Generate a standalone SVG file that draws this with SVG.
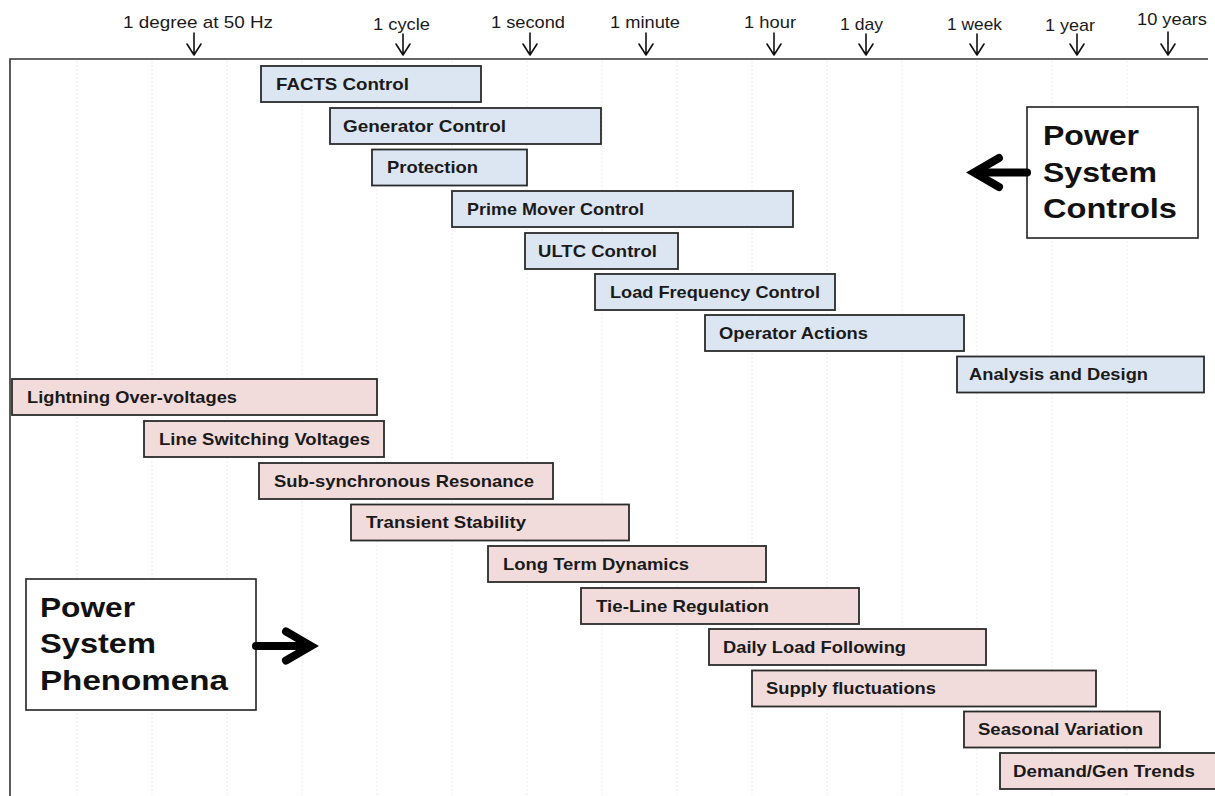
<svg xmlns="http://www.w3.org/2000/svg" width="1215" height="796" viewBox="0 0 1215 796">
<style>
  .axis{font-family:"Liberation Sans",Arial,sans-serif;font-size:17px;fill:#1a1a1a}
  .tick{stroke:#111;stroke-width:1.6;fill:none;stroke-linecap:round;stroke-linejoin:round}
  .grid{stroke:#ececec;stroke-width:1;stroke-dasharray:2 2}
  .frame{stroke:#333;stroke-width:1.6;fill:none}
  .ctrl rect{fill:#dce6f2;stroke:#2b2b2b;stroke-width:1.8}
  .phen rect{fill:#f2dcdb;stroke:#2b2b2b;stroke-width:1.8}
  .lbl{font-family:"Liberation Sans",Arial,sans-serif;font-size:17px;font-weight:bold;fill:#1a1a1a}
  .big rect{fill:#fff;stroke:#222;stroke-width:1.6}
  .bigt{font-family:"Liberation Sans",Arial,sans-serif;font-size:28px;font-weight:bold;fill:#111}
  .fat{stroke:#000;stroke-width:8;fill:none;stroke-linecap:round;stroke-linejoin:miter}
</style>
<rect width="1215" height="796" fill="#fff"/>
<g id="grid">
  <line class="grid" x1="77" y1="61" x2="77" y2="796"/>
  <line class="grid" x1="152" y1="61" x2="152" y2="796"/>
  <line class="grid" x1="227" y1="61" x2="227" y2="796"/>
  <line class="grid" x1="302" y1="61" x2="302" y2="796"/>
  <line class="grid" x1="377" y1="61" x2="377" y2="796"/>
  <line class="grid" x1="452" y1="61" x2="452" y2="796"/>
  <line class="grid" x1="527" y1="61" x2="527" y2="796"/>
  <line class="grid" x1="602" y1="61" x2="602" y2="796"/>
  <line class="grid" x1="677" y1="61" x2="677" y2="796"/>
  <line class="grid" x1="752" y1="61" x2="752" y2="796"/>
  <line class="grid" x1="827" y1="61" x2="827" y2="796"/>
  <line class="grid" x1="902" y1="61" x2="902" y2="796"/>
  <line class="grid" x1="977" y1="61" x2="977" y2="796"/>
  <line class="grid" x1="1052" y1="61" x2="1052" y2="796"/>
  <line class="grid" x1="1127" y1="61" x2="1127" y2="796"/>
</g>
<g id="frame">
  <path class="frame" d="M10 796 L10 59 L1208 59"/>
</g>
<g id="axis">
  <text class="axis" x="123" y="28" textLength="150" lengthAdjust="spacingAndGlyphs">1 degree at 50 Hz</text>
  <text class="axis" x="373" y="30" textLength="57" lengthAdjust="spacingAndGlyphs">1 cycle</text>
  <text class="axis" x="491" y="28" textLength="74" lengthAdjust="spacingAndGlyphs">1 second</text>
  <text class="axis" x="610" y="28" textLength="70" lengthAdjust="spacingAndGlyphs">1 minute</text>
  <text class="axis" x="744" y="28" textLength="52" lengthAdjust="spacingAndGlyphs">1 hour</text>
  <text class="axis" x="840" y="30" textLength="43" lengthAdjust="spacingAndGlyphs">1 day</text>
  <text class="axis" x="947" y="30" textLength="55" lengthAdjust="spacingAndGlyphs">1 week</text>
  <text class="axis" x="1045" y="30.5" textLength="50" lengthAdjust="spacingAndGlyphs">1 year</text>
  <text class="axis" x="1137" y="25" textLength="70" lengthAdjust="spacingAndGlyphs">10 years</text>
  <path class="tick" d="M194 33 V55 M187 44 L194 55 L201 44"/>
  <path class="tick" d="M403 34 V55 M396 44 L403 55 L410 44"/>
  <path class="tick" d="M530 33 V55 M523 44 L530 55 L537 44"/>
  <path class="tick" d="M646 33 V55 M639 44 L646 55 L653 44"/>
  <path class="tick" d="M774 33 V55 M767 44 L774 55 L781 44"/>
  <path class="tick" d="M866 34 V55 M859 44 L866 55 L873 44"/>
  <path class="tick" d="M977 34 V55 M970 44 L977 55 L984 44"/>
  <path class="tick" d="M1077 34 V55 M1070 44 L1077 55 L1084 44"/>
  <path class="tick" d="M1168 32 V55 M1161 44 L1168 55 L1175 44"/>
</g>
<g id="controls" class="ctrl">
  <g id="facts"><rect x="261" y="66" width="220" height="36"/><text class="lbl" x="276" y="89.5" textLength="133" lengthAdjust="spacingAndGlyphs">FACTS  Control</text></g>
  <g id="generator"><rect x="330" y="108" width="271" height="36"/><text class="lbl" x="343" y="131.5" textLength="163" lengthAdjust="spacingAndGlyphs">Generator  Control</text></g>
  <g id="protection"><rect x="372" y="149.5" width="155" height="36"/><text class="lbl" x="387" y="173" textLength="91" lengthAdjust="spacingAndGlyphs">Protection</text></g>
  <g id="primemover"><rect x="452" y="191" width="341" height="36"/><text class="lbl" x="467" y="214.5" textLength="177" lengthAdjust="spacingAndGlyphs">Prime Mover Control</text></g>
  <g id="ultc"><rect x="525" y="233" width="153" height="36"/><text class="lbl" x="538" y="256.5" textLength="119" lengthAdjust="spacingAndGlyphs">ULTC Control</text></g>
  <g id="lfc"><rect x="595" y="274" width="240" height="36"/><text class="lbl" x="610" y="297.5" textLength="210" lengthAdjust="spacingAndGlyphs">Load Frequency Control</text></g>
  <g id="operator"><rect x="705" y="315" width="259" height="36"/><text class="lbl" x="719" y="338.5" textLength="149" lengthAdjust="spacingAndGlyphs">Operator Actions</text></g>
  <g id="analysis"><rect x="957" y="356.5" width="247" height="36"/><text class="lbl" x="969" y="380" textLength="179" lengthAdjust="spacingAndGlyphs">Analysis and Design</text></g>
</g>
<g id="phenomena" class="phen">
  <g id="lightning"><rect x="12" y="379" width="365" height="36"/><text class="lbl" x="27" y="402.5" textLength="210" lengthAdjust="spacingAndGlyphs">Lightning Over-voltages</text></g>
  <g id="lineswitch"><rect x="144" y="421" width="240" height="36"/><text class="lbl" x="159" y="444.5" textLength="211" lengthAdjust="spacingAndGlyphs">Line Switching Voltages</text></g>
  <g id="subsync"><rect x="259" y="463" width="294" height="36"/><text class="lbl" x="274" y="486.5" textLength="260" lengthAdjust="spacingAndGlyphs">Sub-synchronous Resonance</text></g>
  <g id="transient"><rect x="351" y="504.5" width="278" height="36"/><text class="lbl" x="366" y="528" textLength="160" lengthAdjust="spacingAndGlyphs">Transient Stability</text></g>
  <g id="longterm"><rect x="488" y="546" width="278" height="36"/><text class="lbl" x="503" y="569.5" textLength="186" lengthAdjust="spacingAndGlyphs">Long Term Dynamics</text></g>
  <g id="tieline"><rect x="581" y="588" width="278" height="36"/><text class="lbl" x="596" y="611.5" textLength="173" lengthAdjust="spacingAndGlyphs">Tie-Line Regulation</text></g>
  <g id="daily"><rect x="709" y="629" width="277" height="36"/><text class="lbl" x="723" y="652.5" textLength="183" lengthAdjust="spacingAndGlyphs">Daily Load Following</text></g>
  <g id="supply"><rect x="752" y="670.5" width="344" height="36"/><text class="lbl" x="766" y="694" textLength="170" lengthAdjust="spacingAndGlyphs">Supply fluctuations</text></g>
  <g id="seasonal"><rect x="964" y="711.5" width="196" height="36"/><text class="lbl" x="978" y="735" textLength="165" lengthAdjust="spacingAndGlyphs">Seasonal Variation</text></g>
  <g id="demand"><rect x="1000" y="753" width="222" height="36"/><text class="lbl" x="1013" y="776.5" textLength="182" lengthAdjust="spacingAndGlyphs">Demand/Gen Trends</text></g>
</g>
<g id="psc" class="big">
  <rect x="1027" y="107" width="171" height="131"/>
  <text class="bigt" x="1043" y="145" textLength="96" lengthAdjust="spacingAndGlyphs">Power</text>
  <text class="bigt" x="1043" y="182" textLength="114" lengthAdjust="spacingAndGlyphs">System</text>
  <text class="bigt" x="1043" y="218" textLength="134" lengthAdjust="spacingAndGlyphs">Controls</text>
</g>
<g id="psp" class="big">
  <rect x="26" y="579" width="230" height="131"/>
  <text class="bigt" x="40" y="617" textLength="95" lengthAdjust="spacingAndGlyphs">Power</text>
  <text class="bigt" x="40" y="653" textLength="116" lengthAdjust="spacingAndGlyphs">System</text>
  <text class="bigt" x="40" y="689.5" textLength="188" lengthAdjust="spacingAndGlyphs">Phenomena</text>
</g>
<g id="connectors">
  <path class="fat" d="M1027 172.5 H978"/>
  <path class="fat" d="M999 158 L974 172.5 L999 187"/>
  <path class="fat" d="M256 646 H305"/>
  <path class="fat" d="M286 631.5 L311 646 L286 660.5"/>
</g>
</svg>
